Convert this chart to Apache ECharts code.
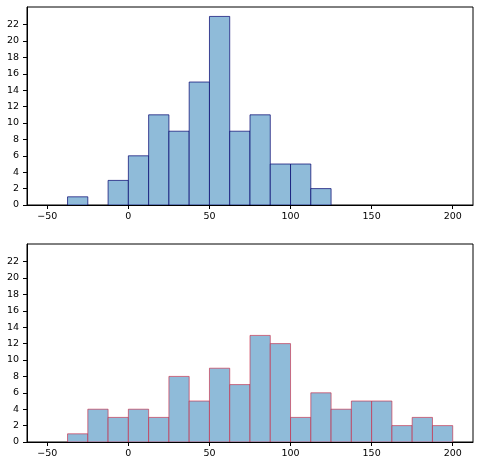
<!DOCTYPE html>
<html><head><meta charset="utf-8">
<script src="https://cdn.jsdelivr.net/npm/echarts@6/dist/echarts.min.js"></script>
<style>html,body{margin:0;padding:0;background:#fff}#c{width:480px;height:466px}</style>
</head><body><div id="c"></div>
<script>
var binEdgesTop = [-37.5,-25,-12.5,0,12.5,25,37.5,50,62.5,75,87.5,100,112.5,125];
var countsTop   = [1,0,3,6,11,9,15,23,9,11,5,5,2];
var binEdgesBottom = [-37.5,-25,-12.5,0,12.5,25,37.5,50,62.5,75,87.5,100,112.5,125,137.5,150,162.5,175,187.5,200];
var countsBottom   = [1,4,3,4,3,8,5,9,7,13,12,3,6,4,5,5,2,3,2];
var xTicks = [-50,0,50,100,150,200];
var yTicks = [0,2,4,6,8,10,12,14,16,18,20,22];

function toData(edges, counts){
  var d=[];
  for(var i=0;i<counts.length;i++){ if(counts[i]>0) d.push([edges[i],edges[i+1],counts[i]]); }
  return d;
}
function fmt(v){ return String(v).replace('-', '\u2212'); }
var font = {fontFamily:'DejaVu Sans', fontSize:9.5, color:'#000'};
function xAxis(idx){
  return {type:'value', gridIndex:idx, min:-62.5, max:212.5,
    splitLine:{show:false}, axisLine:{show:true,onZero:false,lineStyle:{color:'#000'}},
    axisTick:{show:true, inside:false, length:4, lineStyle:{color:'#000'}, customValues:xTicks},
    axisLabel:Object.assign({margin:7, formatter:fmt, customValues:xTicks}, font)};
}
function yAxis(idx){
  return {type:'value', gridIndex:idx, min:0, max:24.15,
    splitLine:{show:false}, axisLine:{show:true,onZero:false,lineStyle:{color:'#000'}},
    axisTick:{show:true, inside:false, length:4, lineStyle:{color:'#000'}, customValues:yTicks},
    axisLabel:Object.assign({margin:8, formatter:fmt, customValues:yTicks}, font)};
}
function histSeries(idx, data, edge){
  return {type:'custom', xAxisIndex:idx, yAxisIndex:idx, data:data, clip:true,
    renderItem:function(params, api){
      var p0 = api.coord([api.value(0), api.value(2)]);
      var p1 = api.coord([api.value(1), 0]);
      return {type:'rect', shape:{x:p0[0], y:p0[1], width:p1[0]-p0[0], height:p1[1]-p0[1]},
        style:{fill:'#8fbbd9', stroke:edge, lineWidth:1}};
    }};
}
var chart = echarts.init(document.getElementById('c'), null, {renderer:'canvas'});
chart.setOption({
  animation:false,
  grid:[
    {left:27, top:7, width:446, height:198, show:true, borderColor:'#000', borderWidth:1, backgroundColor:'transparent'},
    {left:27, top:244, width:446, height:198, show:true, borderColor:'#000', borderWidth:1, backgroundColor:'transparent'}
  ],
  xAxis:[xAxis(0), xAxis(1)],
  yAxis:[yAxis(0), yAxis(1)],
  series:[
    histSeries(0, toData(binEdgesTop, countsTop), 'rgba(0,0,110,0.7)'),
    histSeries(1, toData(binEdgesBottom, countsBottom), 'rgba(200,30,60,0.6)')
  ]
});
</script></body></html>
